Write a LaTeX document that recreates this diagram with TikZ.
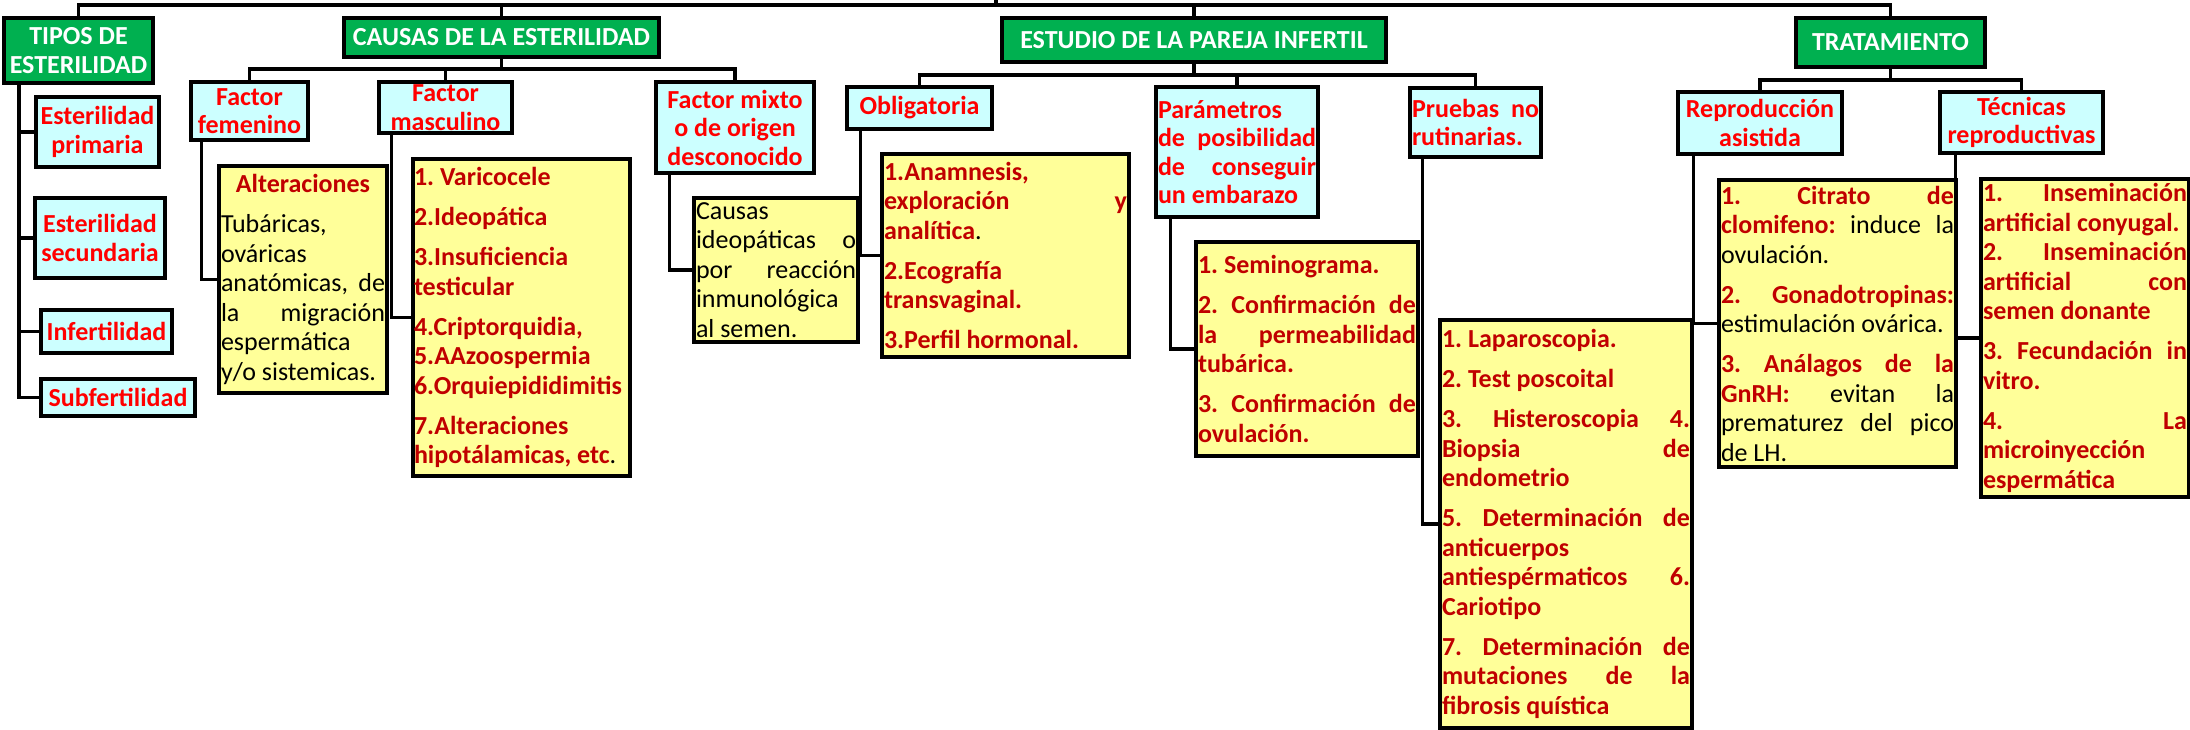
\documentclass[tikz,border=0pt]{standalone}
\usepackage{fontspec}
\setmainfont{Carlito}
\definecolor{hdrgreen}{HTML}{00B050}
\definecolor{cyanfill}{HTML}{CCFFFF}
\definecolor{yelfill}{HTML}{FFFF99}
\definecolor{redtxt}{HTML}{FF0000}
\definecolor{dred}{HTML}{C00000}
\setlength{\parindent}{0pt}
\newcommand{\fixsp}{\spaceskip=5.9pt\relax\xspaceskip=5.9pt\relax}
\newcommand{\justln}[1]{\makebox[\hsize][s]{\spaceskip=5.9pt plus 1fil\relax\xspaceskip=5.9pt plus 1fil\relax #1}}
\newcommand{\centln}[1]{\makebox[\hsize][c]{#1}}
\newcommand{\rd}[1]{\textcolor{dred}{\bfseries #1}}
\newcommand{\pgap}{\\[10.5pt]}
\begin{document}
\begin{tikzpicture}[x=1pt,y=-1pt,
  box/.style={draw=black, line width=3.2pt, inner sep=0pt, rectangle},
  hdr/.style={box, fill=hdrgreen, text=white, font=\fontsize{26}{29}\selectfont\bfseries\fixsp, align=center},
  cat/.style={box, fill=cyanfill, text=redtxt, font=\fontsize{26}{28.5}\selectfont\bfseries\fixsp, align=center},
  lst/.style={box, fill=yelfill, text=black, font=\fontsize{26}{29.5}\selectfont\fixsp, align=left, inner xsep=2pt},
  conn/.style={line width=3.2pt},
]
\useasboundingbox (0,0) rectangle (2190,730);

% headers
\node[hdr, minimum width=149pt, minimum height=65pt] (tipos) at (78.5,50.5) {TIPOS DE\\ESTERILIDAD};
\node[hdr, minimum width=315pt, minimum height=39pt] (causas) at (501.5,37.5) {CAUSAS DE LA ESTERILIDAD};
\node[hdr, minimum width=384pt, minimum height=44pt] (estudio) at (1194,40) {ESTUDIO DE LA PAREJA INFERTIL};
\node[hdr, minimum width=189pt, minimum height=49pt] (trat) at (1890.5,42.5) {TRATAMIENTO};

% tipos children
\node[cat, minimum width=123pt, minimum height=70pt] (prim) at (97.5,132) {Esterilidad\\primaria};
\node[cat, minimum width=130pt, minimum height=80pt] (sec) at (100,238) {Esterilidad\\secundaria};
\node[cat, minimum width=131pt, minimum height=43pt] (infert) at (106.5,331.5) {Infertilidad};
\node[cat, minimum width=154pt, minimum height=37pt] (subf) at (118,397.5) {Subfertilidad};

% causas children
\node[cat, minimum width=117pt, minimum height=58pt] (fem) at (249.5,111) {Factor\\femenino};
\node[cat, minimum width=133pt, minimum height=51pt] (masc) at (445.5,107.5) {Factor\\masculino};
\node[cat, minimum width=158pt, minimum height=91pt] (mixto) at (735,127.5) {Factor mixto\\o de origen\\desconocido};

\node[lst, text width=164pt, minimum width=168pt, minimum height=227pt] (alt) at (303,279.5)
 {\fixsp\centln{\rd{Alteraciones}}\pgap Tubáricas,\\ováricas\\\justln{anatómicas, de}\\\justln{la migración}\\espermática\\y/o sistemicas.};
\node[lst, text width=215pt, inner xsep=1pt, minimum width=217pt, minimum height=317pt] (mlist) at (521.5,317.5)
 {\fixsp\rd{1. Varicocele}\pgap\rd{2.Ideopática}\pgap\rd{3.Insuficiencia}\\\rd{testicular}\pgap\rd{4.Criptorquidia,}\\\rd{5.AAzoospermia}\\\rd{6.Orquiepididimitis}\pgap\rd{7.Alteraciones}\\\rd{hipotálamicas, etc}.};
\node[lst, text width=160pt, minimum width=164pt, minimum height=144pt] (ideo) at (776,270)
 {\fixsp Causas\\\justln{ideopáticas o}\\\justln{por reacción}\\inmunológica\\al semen.};

% estudio children
\node[cat, minimum width=145pt, minimum height=42pt] (oblig) at (919.5,108) {Obligatoria};
\node[cat, align=left, text width=158pt, inner xsep=2pt, minimum width=162pt, minimum height=130pt] (param) at (1237,152)
 {\fixsp Parámetros\\\justln{de posibilidad}\\\justln{de conseguir}\\un embarazo};
\node[cat, align=left, text width=127pt, inner xsep=2pt, minimum width=131pt, minimum height=69pt] (pruebas) at (1475.5,122.5)
 {\fixsp\justln{Pruebas no}\\rutinarias.};

\node[lst, text width=243pt, minimum width=247pt, minimum height=203pt] (olist) at (1005.5,255.5)
 {\fixsp\rd{1.Anamnesis,}\\\justln{\rd{exploración} \rd{y}}\\\rd{analítica}.\pgap\rd{2.Ecografía}\\\rd{transvaginal.}\pgap\rd{3.Perfil hormonal.}};
\node[lst, text width=218pt, minimum width=222pt, minimum height=214pt] (plist) at (1307,349)
 {\fixsp\rd{1. Seminograma.}\pgap\justln{\rd{2. Confirmación de}}\\\justln{\rd{la permeabilidad}}\\\rd{tubárica.}\pgap\justln{\rd{3. Confirmación de}}\\\rd{ovulación.}};
\node[lst, text width=248pt, minimum width=252pt, minimum height=408pt] (prlist) at (1566,524)
 {\fixsp\rd{1. Laparoscopia.}\pgap\rd{2. Test poscoital}\pgap\justln{\rd{3. Histeroscopia 4.}}\\\justln{\rd{Biopsia de}}\\\rd{endometrio}\pgap\justln{\rd{5. Determinación de}}\\\rd{anticuerpos}\\\justln{\rd{antiespérmaticos 6.}}\\\rd{Cariotipo}\pgap\justln{\rd{7. Determinación de}}\\\justln{\rd{mutaciones de la}}\\\rd{fibrosis quística}};

% tratamiento children
\node[cat, minimum width=164pt, minimum height=62pt] (repro) at (1760,123) {Reproducción\\asistida};
\node[cat, minimum width=163pt, minimum height=61pt] (tecn) at (2021.5,122.5) {Técnicas\\reproductivas};

\node[lst, text width=233pt, minimum width=237pt, minimum height=287pt] (rlist) at (1837.5,323.5)
 {\fixsp\justln{\rd{1. Citrato de}}\\\justln{\rd{clomifeno:} induce la}\\ovulación.\pgap\justln{\rd{2. Gonadotropinas:}}\\estimulación ovárica.\pgap\justln{\rd{3. Análagos de la}}\\\justln{\rd{GnRH:} evitan la}\\\justln{prematurez del pico}\\de LH.};
\node[lst, text width=204pt, minimum width=208pt, minimum height=318pt] (tlist) at (2085,338)
 {\fixsp\justln{\rd{1. Inseminación}}\\\rd{artificial conyugal.}\\\justln{\rd{2. Inseminación}}\\\justln{\rd{artificial con}}\\\rd{semen donante}\pgap\justln{\rd{3. Fecundación in}}\\\rd{vitro.}\pgap\justln{\rd{4. La}}\\\rd{microinyección}\\\rd{espermática}};

% connectors
\coordinate (root) at (996,0);
\coordinate (busT) at (0,5);
\coordinate (busC) at (0,69);
\coordinate (busE) at (0,75);
\coordinate (busR) at (0,80);
\coordinate (spT) at (19,0);

\draw[conn] (tipos.north) -- (tipos.north |- busT) -- (trat.north |- busT) -- (trat.north);
\draw[conn] (root) -- (root |- busT);
\draw[conn] (causas.north) -- (causas.north |- busT);
\draw[conn] (estudio.north) -- (estudio.north |- busT);

\draw[conn] (tipos.south -| spT) |- (subf.west);
\foreach \n in {prim,sec,infert} \draw[conn] (spT |- \n.west) -- (\n.west);

\draw[conn] (causas.south) -- (causas.south |- busC);
\draw[conn] (fem.north) -- (fem.north |- busC) -- (mixto.north |- busC) -- (mixto.north);
\draw[conn] (masc.north) -- (masc.north |- busC);
\draw[conn] ([xshift=12pt]fem.south west) |- (alt.west);
\draw[conn] ([xshift=14pt]masc.south west) |- (mlist.west);
\draw[conn] ([xshift=15pt]mixto.south west) |- (ideo.west);

\draw[conn] (estudio.south) -- (estudio.south |- busE);
\draw[conn] (oblig.north) -- (oblig.north |- busE) -- (pruebas.north |- busE) -- (pruebas.north);
\draw[conn] (param.north) -- (param.north |- busE);
\draw[conn] ([xshift=15pt]oblig.south west) |- (olist.west);
\draw[conn] ([xshift=16pt]param.south west) |- (plist.west);
\draw[conn] ([xshift=14pt]pruebas.south west) |- (prlist.west);

\draw[conn] (trat.south) -- (trat.south |- busR);
\draw[conn] (repro.north) -- (repro.north |- busR) -- (tecn.north |- busR) -- (tecn.north);
\draw[conn] ([xshift=17pt]repro.south west) |- (rlist.west);
\draw[conn] ([xshift=17pt]tecn.south west) |- (tlist.west);
\end{tikzpicture}
\end{document}
